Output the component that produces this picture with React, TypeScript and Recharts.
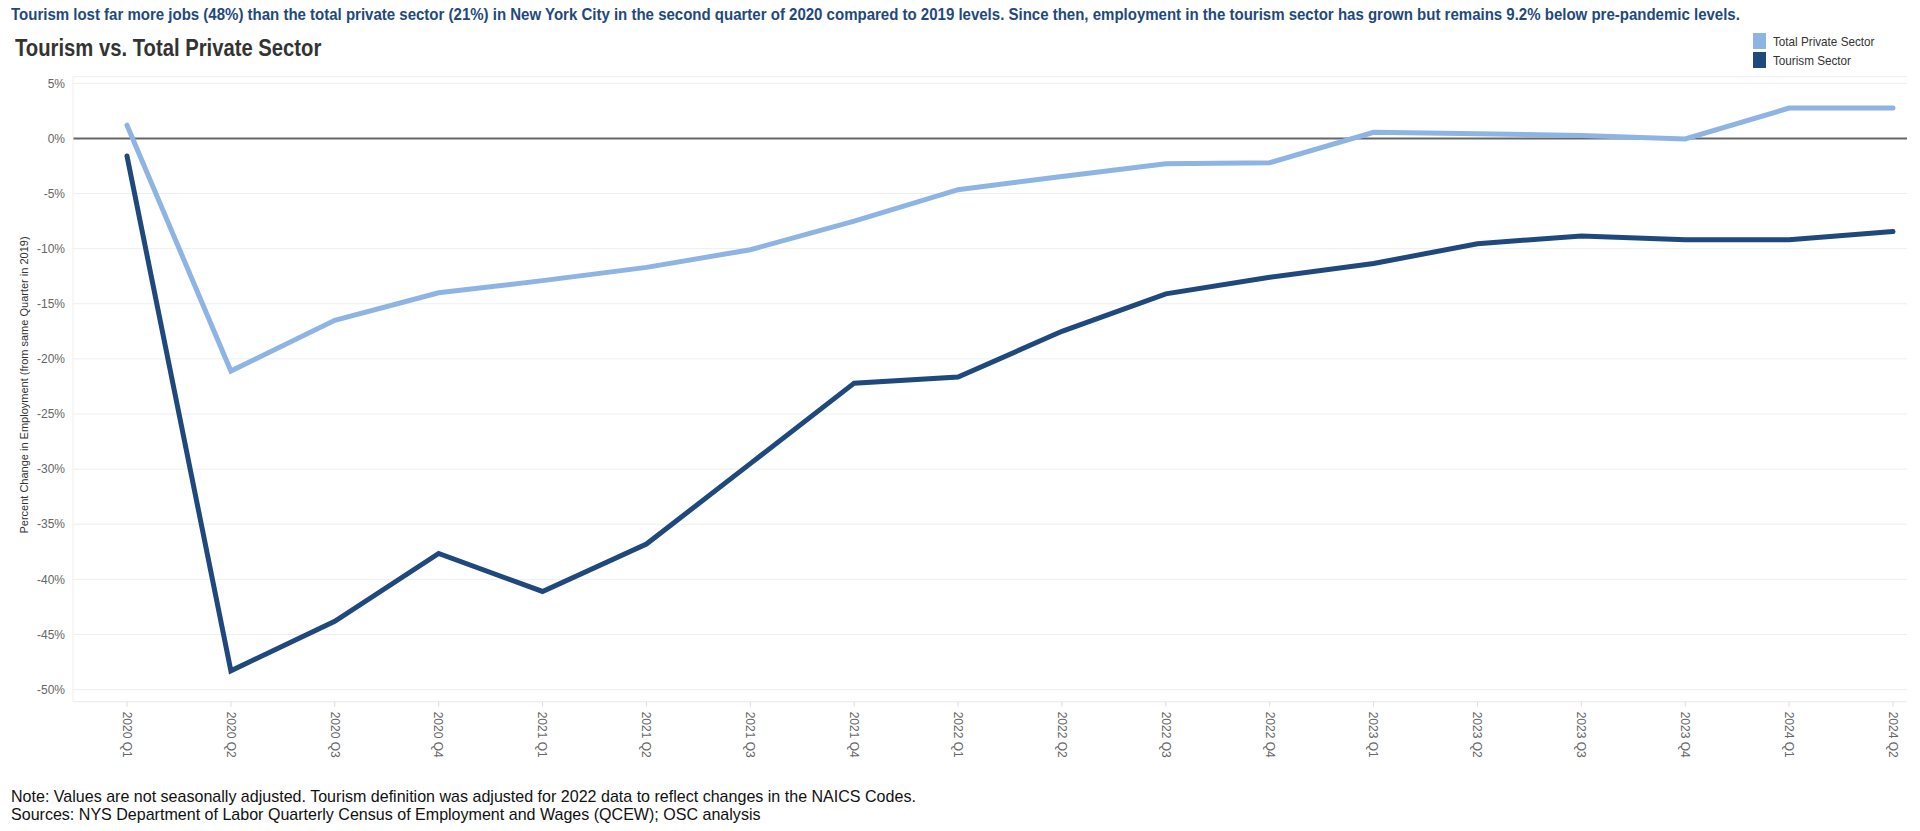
import { LineChart, Line, XAxis, YAxis, CartesianGrid, ReferenceLine } from "recharts";

const quarters = [
  "2020 Q1", "2020 Q2", "2020 Q3", "2020 Q4",
  "2021 Q1", "2021 Q2", "2021 Q3", "2021 Q4",
  "2022 Q1", "2022 Q2", "2022 Q3", "2022 Q4",
  "2023 Q1", "2023 Q2", "2023 Q3", "2023 Q4",
  "2024 Q1", "2024 Q2"
];

// percent change vs same quarter in 2019
const totalPrivate = [1.2, -21.1, -16.5, -14.0, -12.9, -11.7, -10.1, -7.5, -4.65, -3.45, -2.3, -2.2, 0.55, 0.42, 0.27, -0.05, 2.75, 2.75];
const tourism = [-1.6, -48.3, -43.8, -37.65, -41.1, -36.8, -29.5, -22.2, -21.65, -17.5, -14.1, -12.6, -11.35, -9.55, -8.85, -9.2, -9.2, -8.45];

const yTicks = [5, 0, -5, -10, -15, -20, -25, -30, -35, -40, -45, -50];

const LIGHT = "#8DB4E3";
const DARK = "#1F497D";
const SANS = "'Liberation Sans', Arial, sans-serif";

const data = quarters.map((q, i) => ({
  quarter: q,
  totalPrivate: totalPrivate[i],
  tourism: tourism[i]
}));

// squeeze text horizontally, the original uses a narrow face
const narrow = (sx: number) => ({
  transform: `scaleX(${sx})`,
  transformOrigin: "left center"
});

const QuarterTick = ({ x, y, payload }: any) => (
  <g transform={`translate(${x},${y + 3})`}>
    <text
      transform="rotate(90)"
      x={0}
      y={0}
      dy="0.35em"
      textAnchor="start"
      fill="#666"
      fontSize={12}
      fontFamily={SANS}
    >
      {payload.value}
    </text>
  </g>
);

const App = () => {
  return (
    <div style={{ position: "absolute", top: 0, left: 0, width: 1920, height: 831, background: "#fff" }}>
      <div style={{ position: "absolute", left: 11, top: 6, fontFamily: SANS, fontWeight: "bold", fontSize: 16, color: DARK, whiteSpace: "nowrap", ...narrow(0.938) }}>
        Tourism lost far more jobs (48%) than the total private sector (21%) in New York City in the second quarter of 2020 compared to 2019 levels. Since then, employment in the tourism sector has grown but remains 9.2% below pre-pandemic levels.
      </div>
      <div style={{ position: "absolute", left: 15, top: 35, fontFamily: SANS, fontWeight: "bold", fontSize: 23, color: "#333", whiteSpace: "nowrap", ...narrow(0.88) }}>
        Tourism vs. Total Private Sector
      </div>

      <div style={{ position: "absolute", left: 1753, top: 32, fontFamily: SANS, fontSize: 13, color: "#333" }}>
        <div style={{ display: "flex", alignItems: "center", height: 18 }}>
          <span style={{ display: "inline-block", width: 13, height: 16, background: LIGHT, marginRight: 7 }} />
          <span style={{ display: "inline-block", whiteSpace: "nowrap", ...narrow(0.9) }}>Total Private Sector</span>
        </div>
        <div style={{ display: "flex", alignItems: "center", height: 18, marginTop: 1 }}>
          <span style={{ display: "inline-block", width: 13, height: 16, background: DARK, marginRight: 7 }} />
          <span style={{ display: "inline-block", whiteSpace: "nowrap", ...narrow(0.9) }}>Tourism Sector</span>
        </div>
      </div>

      <div
        style={{
          position: "absolute",
          left: 24 - 200,
          top: 385 - 7,
          width: 400,
          height: 14,
          lineHeight: "14px",
          textAlign: "center",
          transform: "rotate(-90deg)",
          fontFamily: SANS,
          fontSize: 11,
          color: "#333",
          whiteSpace: "nowrap"
        }}
      >
        Percent Change in Employment (from same Quarter in 2019)
      </div>

      <div style={{ position: "absolute", top: 0, left: 0 }}>
        <LineChart
          width={1920}
          height={831}
          data={data}
          margin={{ top: 76.7, right: 13, bottom: 69.3, left: 0 }}
        >
          <CartesianGrid vertical={false} stroke="#eee" />
          <XAxis
            dataKey="quarter"
            height={60}
            interval={0}
            padding={{ left: 54, right: 14 }}
            axisLine={{ stroke: "#eee" }}
            tickLine={{ stroke: "#ddd" }}
            tickSize={5}
            tick={<QuarterTick />}
          />
          <YAxis
            width={73}
            domain={[-51.1, 5.6]}
            ticks={yTicks}
            allowDataOverflow
            axisLine={{ stroke: "#eee" }}
            tickLine={false}
            tickSize={0}
            tickMargin={8}
            tickFormatter={(v: number) => `${v}%`}
            tick={{ fill: "#666", fontSize: 12, fontFamily: SANS }}
          />
          <ReferenceLine y={0} stroke="#666" strokeWidth={2} />
          <Line
            dataKey="totalPrivate"
            name="Total Private Sector"
            stroke={LIGHT}
            strokeWidth={5}
            strokeLinecap="round"
            dot={false}
            activeDot={false}
            isAnimationActive={false}
          />
          <Line
            dataKey="tourism"
            name="Tourism Sector"
            stroke={DARK}
            strokeWidth={5}
            strokeLinecap="round"
            dot={false}
            activeDot={false}
            isAnimationActive={false}
          />
        </LineChart>
      </div>

      <div style={{ position: "absolute", left: 11, top: 788, fontFamily: SANS, fontSize: 17, color: "#111", lineHeight: "18px", whiteSpace: "nowrap", ...narrow(0.944) }}>
        <div>Note: Values are not seasonally adjusted. Tourism definition was adjusted for 2022 data to reflect changes in the NAICS Codes.</div>
        <div>Sources: NYS Department of Labor Quarterly Census of Employment and Wages (QCEW); OSC analysis</div>
      </div>
    </div>
  );
};

export default App;
